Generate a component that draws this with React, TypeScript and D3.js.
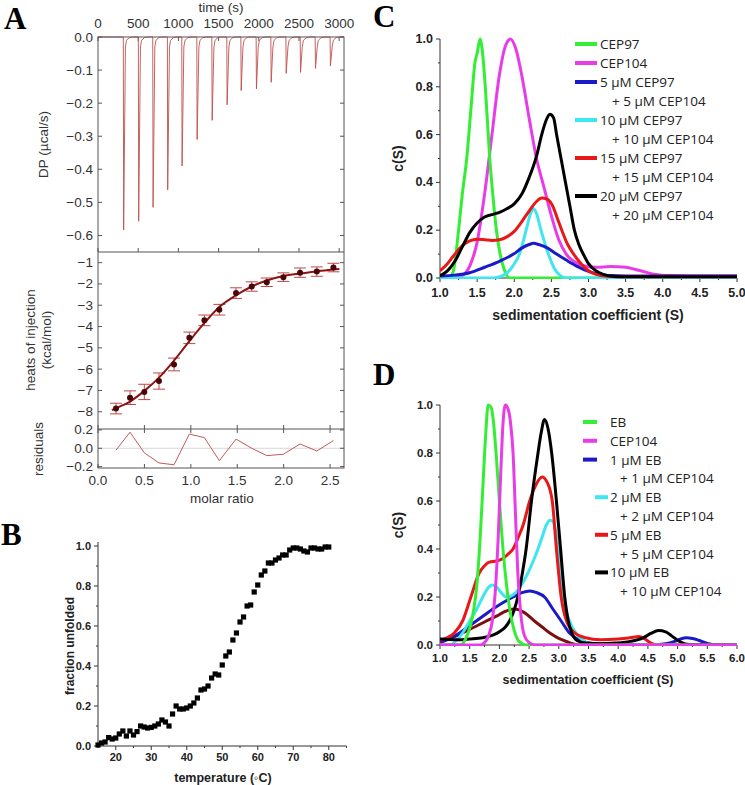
import React from 'react';
import * as d3 from 'd3';

// ---------------- Panel A data ----------------
const timeTicks = [0, 500, 1000, 1500, 2000, 2500, 3000];
const dpTicks = [0, -0.1, -0.2, -0.3, -0.4, -0.5, -0.6];
const heatTicks = [-1, -2, -3, -4, -5, -6, -7, -8];
const resTicks = [0.2, 0, -0.2];
const molarTicks = [0, 0.5, 1.0, 1.5, 2.0, 2.5];
const injTimes = [315, 502, 681, 863, 1042, 1229, 1416, 1602, 1777, 1967, 2150, 2337, 2515, 2701, 2887];
const injPeaks = [-0.583, -0.557, -0.515, -0.462, -0.39, -0.31, -0.252, -0.205, -0.162, -0.157, -0.137, -0.11, -0.107, -0.095, -0.087];
const molarRatio = [0.194, 0.345, 0.499, 0.657, 0.819, 0.984, 1.146, 1.307, 1.487, 1.656, 1.818, 1.997, 2.177, 2.357, 2.536];
const heats = [-7.85, -7.34, -7.07, -6.56, -5.78, -4.53, -3.71, -3.21, -2.43, -2.12, -1.92, -1.68, -1.47, -1.42, -1.23];
const heatErr = [0.25, 0.32, 0.36, 0.38, 0.3, 0.27, 0.25, 0.25, 0.25, 0.22, 0.2, 0.2, 0.22, 0.22, 0.2];
const fitX = [0.15, 0.194, 0.345, 0.499, 0.657, 0.819, 0.984, 1.146, 1.307, 1.487, 1.656, 1.818, 1.997, 2.177, 2.357, 2.536, 2.6];
const fitY = [-7.92, -7.83, -7.52, -7.02, -6.4, -5.6, -4.69, -3.83, -3.08, -2.53, -2.12, -1.84, -1.63, -1.51, -1.41, -1.32, -1.3];
const residuals = [-0.02, 0.175, -0.05, -0.16, -0.18, 0.155, 0.116, -0.135, 0.1, 0.0, -0.08, -0.065, 0.047, -0.03, 0.084];

// ---------------- Panel B data ----------------
const tempC = [15, 16, 17, 18, 19, 20, 21, 22, 23, 24, 25, 26, 27, 28, 29, 30, 31, 32, 33, 34, 35, 36, 37, 38, 39, 40, 41, 42, 43, 44, 45, 46, 47, 48, 49, 50, 51, 52, 53, 54, 55, 56, 57, 58, 59, 60, 61, 62, 63, 64, 65, 66, 67, 68, 69, 70, 71, 72, 73, 74, 75, 76, 77, 78, 79, 80];
const fracUnfolded = [0.005, 0.015, 0.02, 0.042, 0.035, 0.04, 0.06, 0.075, 0.05, 0.075, 0.055, 0.072, 0.1, 0.095, 0.09, 0.093, 0.1, 0.11, 0.13, 0.12, 0.1, 0.16, 0.2, 0.185, 0.185, 0.19, 0.2, 0.215, 0.24, 0.28, 0.285, 0.3, 0.34, 0.36, 0.355, 0.405, 0.45, 0.47, 0.53, 0.565, 0.62, 0.645, 0.7, 0.705, 0.77, 0.805, 0.855, 0.875, 0.915, 0.915, 0.93, 0.94, 0.955, 0.955, 0.98, 0.99, 0.99, 0.985, 0.975, 0.97, 0.99, 0.99, 0.985, 0.985, 0.995, 0.995];
const tempTicks = [20, 30, 40, 50, 60, 70, 80];
const fracTicks = [0, 0.2, 0.4, 0.6, 0.8, 1.0];

// ---------------- Panel C data ----------------
const cCep97X = [1.0, 1.12, 1.18, 1.25, 1.3, 1.36, 1.42, 1.47, 1.5, 1.54, 1.58, 1.61, 1.67, 1.72, 1.76, 1.81, 1.86, 1.94, 2.1, 5.0];
const cCep97Y = [0, 0, 0.03, 0.2, 0.35, 0.5, 0.72, 0.9, 0.94, 1.0, 0.92, 0.8, 0.5, 0.32, 0.2, 0.1, 0.04, 0, 0, 0];
const cCep104X = [1.0, 1.2, 1.3, 1.4, 1.5, 1.6, 1.7, 1.8, 1.88, 1.95, 2.02, 2.1, 2.2, 2.3, 2.4, 2.5, 2.6, 2.7, 2.8, 2.95, 3.1, 3.3, 3.5, 3.7, 3.9, 4.1, 4.4, 5.0];
const cCep104Y = [0, 0, 0.01, 0.05, 0.15, 0.35, 0.6, 0.85, 0.97, 1.0, 0.96, 0.85, 0.67, 0.5, 0.38, 0.26, 0.16, 0.1, 0.07, 0.05, 0.045, 0.048, 0.045, 0.03, 0.015, 0.01, 0.008, 0.008];
const c5X = [1.0, 1.2, 1.4, 1.6, 1.8, 1.99, 2.1, 2.2, 2.26, 2.33, 2.45, 2.57, 2.7, 2.84, 3.0, 3.15, 3.3, 3.5, 5.0];
const c5Y = [0.008, 0.012, 0.022, 0.045, 0.07, 0.1, 0.125, 0.14, 0.145, 0.14, 0.125, 0.1, 0.075, 0.05, 0.028, 0.015, 0.01, 0.008, 0.008];
const c10X = [1.0, 1.7, 1.8, 1.9, 1.98, 2.07, 2.16, 2.22, 2.26, 2.3, 2.36, 2.46, 2.54, 2.62, 2.7, 5.0];
const c10Y = [0, 0, 0.005, 0.02, 0.05, 0.1, 0.2, 0.27, 0.29, 0.27, 0.2, 0.1, 0.04, 0.01, 0, 0];
const c15X = [1.0, 1.1, 1.2, 1.3, 1.4, 1.5, 1.6, 1.7, 1.8, 1.9, 2.0, 2.1, 2.2, 2.3, 2.37, 2.44, 2.52, 2.58, 2.64, 2.72, 2.8, 2.9, 3.0, 3.1, 3.25, 3.4, 5.0];
const c15Y = [0.03, 0.06, 0.1, 0.135, 0.155, 0.162, 0.16, 0.157, 0.16, 0.172, 0.195, 0.235, 0.28, 0.32, 0.335, 0.33, 0.3, 0.25, 0.2, 0.14, 0.1, 0.06, 0.03, 0.015, 0.007, 0.005, 0.005];
const c20X = [1.0, 1.1, 1.2, 1.3, 1.4, 1.5, 1.6, 1.7, 1.8, 1.9, 2.0, 2.1, 2.2, 2.3, 2.37, 2.43, 2.48, 2.53, 2.57, 2.63, 2.69, 2.75, 2.81, 2.87, 2.93, 3.0, 3.1, 3.2, 3.35, 3.5, 5.0];
const c20Y = [0.01, 0.03, 0.07, 0.13, 0.19, 0.23, 0.255, 0.265, 0.275, 0.29, 0.31, 0.35, 0.42, 0.51, 0.6, 0.66, 0.685, 0.67, 0.6, 0.5, 0.4, 0.3, 0.2, 0.14, 0.1, 0.06, 0.03, 0.015, 0.006, 0.005, 0.005];
const cLegendMain = ['CEP97', 'CEP104', '5 µM CEP97', '10 µM CEP97', '15 µM CEP97', '20 µM CEP97'];
const cLegendSub = ['', '', '+ 5 µM CEP104', '+ 10 µM CEP104', '+ 15 µM CEP104', '+ 20 µM CEP104'];

// ---------------- Panel D data ----------------
const dEbX = [1.0, 1.35, 1.42, 1.5, 1.57, 1.62, 1.67, 1.72, 1.77, 1.81, 1.86, 1.9, 1.95, 2.0, 2.06, 2.12, 2.18, 2.25, 2.33, 2.45, 6.0];
const dEbY = [0, 0, 0.02, 0.07, 0.15, 0.25, 0.42, 0.65, 0.88, 1.0, 0.99, 0.93, 0.78, 0.6, 0.4, 0.25, 0.14, 0.06, 0.015, 0, 0];
const dCep104X = [1.0, 1.68, 1.75, 1.82, 1.88, 1.93, 1.98, 2.02, 2.06, 2.1, 2.15, 2.19, 2.23, 2.27, 2.31, 2.36, 2.42, 2.5, 2.6, 6.0];
const dCep104Y = [0, 0, 0.01, 0.04, 0.1, 0.22, 0.45, 0.7, 0.92, 1.0, 0.98, 0.92, 0.8, 0.55, 0.3, 0.13, 0.04, 0.01, 0, 0];
const d1X = [1.0, 1.15, 1.33, 1.47, 1.61, 1.75, 1.89, 2.05, 2.23, 2.38, 2.51, 2.63, 2.76, 2.9, 3.04, 3.18, 3.35, 3.6, 4.5, 4.8, 4.95, 5.05, 5.15, 5.25, 5.35, 5.5, 5.65, 6.0];
const d1Y = [0.01, 0.025, 0.05, 0.075, 0.1, 0.125, 0.15, 0.175, 0.2, 0.218, 0.225, 0.218, 0.2, 0.15, 0.1, 0.05, 0.02, 0.005, 0, 0.005, 0.015, 0.025, 0.03, 0.027, 0.02, 0.006, 0, 0];
const d2X = [1.0, 1.16, 1.28, 1.38, 1.5, 1.62, 1.72, 1.8, 1.88, 1.96, 2.04, 2.11, 2.2, 2.28, 2.37, 2.48, 2.57, 2.65, 2.72, 2.79, 2.85, 2.9, 2.95, 2.99, 3.07, 3.18, 3.3, 3.41, 3.6, 6.0];
const d2Y = [0, 0, 0.02, 0.05, 0.1, 0.15, 0.2, 0.235, 0.25, 0.24, 0.215, 0.2, 0.205, 0.22, 0.25, 0.3, 0.35, 0.4, 0.45, 0.5, 0.52, 0.515, 0.47, 0.4, 0.2, 0.1, 0.045, 0.02, 0, 0];
const d5X = [1.0, 1.12, 1.24, 1.38, 1.52, 1.66, 1.75, 1.83, 1.95, 2.06, 2.15, 2.23, 2.32, 2.4, 2.51, 2.62, 2.72, 2.8, 2.89, 2.96, 3.04, 3.13, 3.27, 3.45, 3.7, 4.0, 4.2, 4.35, 4.45, 4.55, 4.65, 6.0];
const d5Y = [0.02, 0.03, 0.05, 0.1, 0.2, 0.3, 0.33, 0.345, 0.35, 0.36, 0.38, 0.4, 0.45, 0.5, 0.6, 0.67, 0.7, 0.68, 0.6, 0.4, 0.2, 0.1, 0.05, 0.03, 0.022, 0.025, 0.03, 0.035, 0.025, 0.008, 0, 0];
const d10X = [1.0, 1.3, 1.5, 1.72, 1.9, 2.0, 2.1, 2.17, 2.24, 2.31, 2.38, 2.45, 2.54, 2.65, 2.7, 2.76, 2.82, 2.88, 2.96, 3.03, 3.1, 3.16, 3.22, 3.3, 3.45, 3.7, 3.95, 4.2, 4.42, 4.55, 4.68, 4.8, 4.9, 5.05, 5.2, 6.0];
const d10Y = [0.025, 0.022, 0.025, 0.03, 0.042, 0.055, 0.075, 0.1, 0.14, 0.2, 0.29, 0.4, 0.6, 0.8, 0.88, 0.94, 0.9, 0.8, 0.6, 0.4, 0.2, 0.1, 0.05, 0.02, 0.008, 0.005, 0.008, 0.015, 0.03, 0.048, 0.06, 0.055, 0.038, 0.012, 0.002, 0];
const dExtraX = [1.0, 1.2, 1.38, 1.58, 1.78, 1.95, 2.1, 2.26, 2.42, 2.59, 2.72, 2.85, 2.96, 3.07, 3.2, 3.35, 3.6];
const dExtraY = [0.02, 0.03, 0.05, 0.075, 0.1, 0.12, 0.14, 0.15, 0.135, 0.1, 0.075, 0.05, 0.033, 0.02, 0.008, 0, 0];
const dLegendMain = ['EB', 'CEP104', '1 µM EB', '2 µM EB', '5 µM EB', '10 µM EB'];
const dLegendSub = ['', '', '+ 1 µM CEP104', '+ 2 µM CEP104', '+ 5 µM CEP104', '+ 10 µM CEP104'];

const sedTicksY = [0, 0.2, 0.4, 0.6, 0.8, 1.0];

// ---------------- styles ----------------
const GREEN = '#33ee33';
const MAGENTA = '#e83ce8';
const BLUE = '#1a1ac8';
const CYAN = '#3ee6f0';
const RED = '#e81818';
const BLACK = '#000000';
const MAROON = '#7c1010';
const SANS = 'Liberation Sans, Arial, sans-serif';
const SERIF = 'Liberation Serif, Times New Roman, serif';
const LEG = 'Open Sans, sans-serif';

const fmt1 = (v: number) => (v < 0 ? '\u2212' : '') + Math.abs(v).toFixed(1);
const fmt0 = (v: number) => (v < 0 ? '\u2212' : '') + Math.abs(v).toFixed(0);

function zip(xs: number[], ys: number[]): [number, number][] {
  return xs.map((x, i) => [x, ys[i]]);
}

// ---------------- Panel A ----------------
function PanelA() {
  const L = 98, R = 344;
  const T = 37, S1 = 252, S2 = 429, B = 468;
  const xT = d3.scaleLinear().domain([0, 3060]).range([L, R]);
  const yDP = d3.scaleLinear().domain([-0.65, 0]).range([S1, T]);
  const xM = d3.scaleLinear().domain([0, 2.65]).range([L, R]);
  const yH = d3.scaleLinear().domain([-8.81, -0.5]).range([S2, S1]);
  const yR = d3.scaleLinear().domain([-0.215, 0.21]).range([B, S2]);

  const dpPts: [number, number][] = [[0, 0]];
  injTimes.forEach((t, i) => {
    const d = injPeaks[i];
    dpPts.push([t, 0], [t + 4, d], [t + 26, -0.03], [t + 40, -0.01], [t + 75, -0.002], [t + 110, 0]);
  });
  dpPts.push([3060, 0]);
  const dpLine = d3.line<[number, number]>().x(d => xT(d[0])).y(d => yDP(d[1]));
  const fitLine = d3.line<[number, number]>().x(d => xM(d[0])).y(d => yH(d[1])).curve(d3.curveMonotoneX);
  const resLine = d3.line<[number, number]>().x(d => xM(d[0])).y(d => yR(d[1]));

  const axisCol = '#555';
  const txt = '#333';
  const tk = 4;
  return (
    <g>
      <defs>
        <clipPath id="clipDP"><rect x={L} y={T - 1} width={R - L} height={S1 - T + 1} /></clipPath>
      </defs>
      <text x={4} y={29} fontFamily={SERIF} fontWeight="bold" fontSize={31}>A</text>
      <text x={221} y={12} textAnchor="middle" fontFamily={SANS} fontSize={13.5} fill={txt}>time (s)</text>
      {timeTicks.map(t => (
        <g key={'tt' + t}>
          <text x={xT(t)} y={28} textAnchor="middle" fontFamily={SANS} fontSize={13.5} fill={txt}>{t}</text>
          <line x1={xT(t)} x2={xT(t)} y1={T} y2={T + tk} stroke={axisCol} />
          <line x1={xT(t)} x2={xT(t)} y1={S1} y2={S1 - tk} stroke={axisCol} />
        </g>
      ))}
      {dpTicks.map(v => (
        <g key={'dp' + v}>
          <text x={93} y={yDP(v)} textAnchor="end" dominantBaseline="central" fontFamily={SANS} fontSize={13.5} fill={txt}>{fmt1(v)}</text>
          <line x1={L} x2={L + tk} y1={yDP(v)} y2={yDP(v)} stroke={axisCol} />
          <line x1={R} x2={R - tk} y1={yDP(v)} y2={yDP(v)} stroke={axisCol} />
        </g>
      ))}
      <path d={dpLine(dpPts) || ''} fill="none" stroke="#c0504d" strokeWidth={0.9} clipPath="url(#clipDP)" />

      {heatTicks.map(v => (
        <g key={'h' + v}>
          <text x={93} y={yH(v)} textAnchor="end" dominantBaseline="central" fontFamily={SANS} fontSize={13.5} fill={txt}>{fmt0(v)}</text>
          <line x1={L} x2={L + tk} y1={yH(v)} y2={yH(v)} stroke={axisCol} />
          <line x1={R} x2={R - tk} y1={yH(v)} y2={yH(v)} stroke={axisCol} />
        </g>
      ))}
      {molarRatio.map((m, i) => (
        <g key={'e' + i} stroke="#c04848" strokeWidth={1}>
          <line x1={xM(m)} x2={xM(m)} y1={yH(heats[i] - heatErr[i])} y2={yH(heats[i] + heatErr[i])} />
          <line x1={xM(m) - 6} x2={xM(m) + 6} y1={yH(heats[i] - heatErr[i])} y2={yH(heats[i] - heatErr[i])} />
          <line x1={xM(m) - 6} x2={xM(m) + 6} y1={yH(heats[i] + heatErr[i])} y2={yH(heats[i] + heatErr[i])} />
        </g>
      ))}
      <path d={fitLine(zip(fitX, fitY)) || ''} fill="none" stroke="#8b1414" strokeWidth={2} />
      {molarRatio.map((m, i) => (
        <circle key={'p' + i} cx={xM(m)} cy={yH(heats[i])} r={3} fill="#4a0606" />
      ))}

      <line x1={L} x2={R} y1={yR(0)} y2={yR(0)} stroke="#d8d8d8" strokeWidth={1} />
      <path d={resLine(zip(molarRatio, residuals)) || ''} fill="none" stroke="#c05a5a" strokeWidth={1} />
      {resTicks.map(v => (
        <g key={'r' + v}>
          <text x={93} y={yR(v)} textAnchor="end" dominantBaseline="central" fontFamily={SANS} fontSize={13.5} fill={txt}>{fmt1(v)}</text>
          <line x1={L} x2={L + tk} y1={yR(v)} y2={yR(v)} stroke={axisCol} />
          <line x1={R} x2={R - tk} y1={yR(v)} y2={yR(v)} stroke={axisCol} />
        </g>
      ))}
      {molarTicks.map(m => (
        <g key={'m' + m}>
          <text x={xM(m)} y={485} textAnchor="middle" fontFamily={SANS} fontSize={13.5} fill={txt}>{m.toFixed(1)}</text>
          <line x1={xM(m)} x2={xM(m)} y1={B} y2={B - tk} stroke={axisCol} />
          <line x1={xM(m)} x2={xM(m)} y1={S2 - tk} y2={S2 + tk} stroke={axisCol} />
        </g>
      ))}
      <rect x={L} y={T} width={R - L} height={B - T} fill="none" stroke={axisCol} strokeWidth={1} />
      <line x1={L} x2={R} y1={S1} y2={S1} stroke={axisCol} strokeWidth={1} />
      <line x1={L} x2={R} y1={S2} y2={S2} stroke={axisCol} strokeWidth={1} />

      <text transform={`translate(43,${(T + S1) / 2}) rotate(-90)`} textAnchor="middle" dominantBaseline="central" fontFamily={SANS} fontSize={13.5} fill={txt}>DP (µcal/s)</text>
      <text transform={`translate(30,340) rotate(-90)`} textAnchor="middle" dominantBaseline="central" fontFamily={SANS} fontSize={13.5} fill={txt}>heats of injection</text>
      <text transform={`translate(46,340) rotate(-90)`} textAnchor="middle" dominantBaseline="central" fontFamily={SANS} fontSize={13.5} fill={txt}>(kcal/mol)</text>
      <text transform={`translate(38,449) rotate(-90)`} textAnchor="middle" dominantBaseline="central" fontFamily={SANS} fontSize={13.5} fill={txt}>residuals</text>
      <text x={222} y={503} textAnchor="middle" fontFamily={SANS} fontSize={13.5} fill={txt}>molar ratio</text>
    </g>
  );
}

// ---------------- Panel B ----------------
function PanelB() {
  const x = d3.scaleLinear().domain([15, 85]).range([98, 346.5]);
  const y = d3.scaleLinear().domain([0, 1]).range([746, 546]);
  const minorX = d3.range(15, 86, 5).filter(v => v % 10 !== 0);
  const minorY = [0.1, 0.3, 0.5, 0.7, 0.9];
  const col = '#333';
  return (
    <g>
      <text x={1} y={545} fontFamily={SERIF} fontWeight="bold" fontSize={31}>B</text>
      <line x1={98} x2={98} y1={746} y2={y(1.02)} stroke={col} />
      <line x1={98} x2={346.5} y1={746} y2={746} stroke={col} />
      {fracTicks.map(v => (
        <g key={'fy' + v}>
          <line x1={94} x2={98} y1={y(v)} y2={y(v)} stroke={col} />
          <text x={91} y={y(v)} textAnchor="end" dominantBaseline="central" fontFamily={SANS} fontWeight="bold" fontSize={11} fill="#222">{v.toFixed(1)}</text>
        </g>
      ))}
      {minorY.map(v => <line key={'my' + v} x1={96} x2={98} y1={y(v)} y2={y(v)} stroke={col} />)}
      {tempTicks.map(v => (
        <g key={'tx' + v}>
          <line x1={x(v)} x2={x(v)} y1={746} y2={750} stroke={col} />
          <text x={x(v)} y={761} textAnchor="middle" fontFamily={SANS} fontWeight="bold" fontSize={11} fill="#222">{v}</text>
        </g>
      ))}
      {minorX.map(v => <line key={'mx' + v} x1={x(v)} x2={x(v)} y1={746} y2={748} stroke={col} />)}
      {tempC.map((t, i) => (
        <rect key={'s' + i} x={x(t) - 2.6} y={y(fracUnfolded[i]) - 2.6} width={5.2} height={5.2} fill="#000" />
      ))}
      <text transform={`translate(70,646) rotate(-90)`} textAnchor="middle" dominantBaseline="central" fontFamily={SANS} fontWeight="bold" fontSize={12} fill="#222">fraction unfolded</text>
      <text x={223} y={782} textAnchor="middle" fontFamily={SANS} fontWeight="bold" fontSize={12.5} fill="#222">temperature (◦C)</text>
    </g>
  );
}

// ---------------- Sedimentation panels ----------------
type Series = { xs: number[]; ys: number[]; color: string };

function SedPanel(props: {
  letter: string; letterY: number; top: number; bottom: number; xMax: number; xTicks: number[];
  series: Series[]; legendMain: string[]; legendSub: string[]; legendColors: string[];
  legendY0: number; legendDy: number; sampleX: number[][]; textX: number; subX: number;
  tickFont: number; titleFont: number; titleY: number; tickLabelY: number; legFont: number;
}) {
  const L = 440, R = 737;
  const x = d3.scaleLinear().domain([1, props.xMax]).range([L, R]);
  const y = d3.scaleLinear().domain([0, 1]).range([props.bottom, props.top]);
  const line = d3.line<[number, number]>().x(d => x(d[0])).y(d => y(d[1])).curve(d3.curveMonotoneX);
  const minorX = props.xTicks.slice(0, -1).map(v => v + 0.25);
  const minorY = [0.1, 0.3, 0.5, 0.7, 0.9];
  const col = '#333';
  const clipId = 'clip' + props.letter;
  return (
    <g>
      <defs>
        <clipPath id={clipId}><rect x={L} y={props.top - 10} width={R - L + 2} height={props.bottom - props.top + 11} /></clipPath>
      </defs>
      <text x={373} y={props.letterY} fontFamily={SERIF} fontWeight="bold" fontSize={31}>{props.letter}</text>
      <line x1={L} x2={L} y1={props.bottom} y2={y(1.0)} stroke={col} />
      <line x1={L} x2={R} y1={props.bottom} y2={props.bottom} stroke={col} />
      {sedTicksY.map(v => (
        <g key={'y' + v}>
          <line x1={L - 4} x2={L} y1={y(v)} y2={y(v)} stroke={col} />
          <text x={L - 7} y={y(v)} textAnchor="end" dominantBaseline="central" fontFamily={SANS} fontWeight="bold" fontSize={props.tickFont} fill="#222">{v.toFixed(1)}</text>
        </g>
      ))}
      {minorY.map(v => <line key={'my' + v} x1={L - 2} x2={L} y1={y(v)} y2={y(v)} stroke={col} />)}
      {props.xTicks.map(v => (
        <g key={'x' + v}>
          <line x1={x(v)} x2={x(v)} y1={props.bottom} y2={props.bottom + 4} stroke={col} />
          <text x={x(v)} y={props.tickLabelY} textAnchor="middle" dominantBaseline="central" fontFamily={SANS} fontWeight="bold" fontSize={props.tickFont} fill="#222">{v.toFixed(1)}</text>
        </g>
      ))}
      {minorX.map(v => <line key={'mx' + v} x1={x(v)} x2={x(v)} y1={props.bottom} y2={props.bottom + 2} stroke={col} />)}
      <g clipPath={`url(#${clipId})`}>
        {props.series.map((s, i) => (
          <path key={'s' + i} d={line(zip(s.xs, s.ys)) || ''} fill="none" stroke={s.color} strokeWidth={3} strokeLinejoin="round" />
        ))}
      </g>
      {props.legendMain.map((lab, i) => {
        const rowY = props.legendY0 + props.legendDy * 2 * Math.max(0, i - 2) + props.legendDy * Math.min(i, 2);
        const sx = props.sampleX[i];
        return (
          <g key={'l' + i}>
            <line x1={sx[0]} x2={sx[1]} y1={rowY} y2={rowY} stroke={props.legendColors[i]} strokeWidth={4} />
            <text x={props.textX} y={rowY} dominantBaseline="central" fontFamily={LEG} fontSize={props.legFont} fill="#222">{lab}</text>
            {props.legendSub[i] ? (
              <text x={props.subX} y={rowY + props.legendDy} dominantBaseline="central" fontFamily={LEG} fontSize={props.legFont} fill="#222">{props.legendSub[i]}</text>
            ) : null}
          </g>
        );
      })}
      <text transform={`translate(398,${(props.top + props.bottom) / 2}) rotate(-90)`} textAnchor="middle" dominantBaseline="central" fontFamily={SANS} fontWeight="bold" fontSize={14} fill="#222">c(S)</text>
      <text x={588} y={props.titleY} textAnchor="middle" dominantBaseline="central" fontFamily={SANS} fontWeight="bold" fontSize={props.titleFont} fill="#222">sedimentation coefficient (S)</text>
    </g>
  );
}

function PanelC() {
  const series: Series[] = [
    { xs: cCep104X, ys: cCep104Y, color: MAGENTA },
    { xs: cCep97X, ys: cCep97Y, color: GREEN },
    { xs: c10X, ys: c10Y, color: CYAN },
    { xs: c5X, ys: c5Y, color: BLUE },
    { xs: c15X, ys: c15Y, color: RED },
    { xs: c20X, ys: c20Y, color: BLACK },
  ];
  const s = [575, 597];
  return (
    <SedPanel letter="C" letterY={27} top={39} bottom={278} xMax={5} xTicks={[1, 1.5, 2, 2.5, 3, 3.5, 4, 4.5, 5]}
      series={series} legendMain={cLegendMain} legendSub={cLegendSub}
      legendColors={[GREEN, MAGENTA, BLUE, CYAN, RED, BLACK]}
      legendY0={44} legendDy={19} sampleX={[s, s, s, s, s, s]} textX={600} subX={612}
      tickFont={12.5} titleFont={14} titleY={315} tickLabelY={293} legFont={13.5} />
  );
}

function PanelD() {
  const series: Series[] = [
    { xs: dExtraX, ys: dExtraY, color: MAROON },
    { xs: d1X, ys: d1Y, color: BLUE },
    { xs: d2X, ys: d2Y, color: CYAN },
    { xs: d5X, ys: d5Y, color: RED },
    { xs: d10X, ys: d10Y, color: BLACK },
    { xs: dEbX, ys: dEbY, color: GREEN },
    { xs: dCep104X, ys: dCep104Y, color: MAGENTA },
  ];
  const a = [583, 597];
  const b = [595, 608];
  return (
    <SedPanel letter="D" letterY={385} top={405} bottom={645} xMax={6} xTicks={[1, 1.5, 2, 2.5, 3, 3.5, 4, 4.5, 5, 5.5, 6]}
      series={series} legendMain={dLegendMain} legendSub={dLegendSub}
      legendColors={[GREEN, MAGENTA, BLUE, CYAN, RED, BLACK]}
      legendY0={422} legendDy={18.8} sampleX={[a, a, a, b, b, b]} textX={610} subX={620}
      tickFont={11.5} titleFont={12.5} titleY={680} tickLabelY={658} legFont={13.5} />
  );
}

export default function App() {
  return (
    <svg width={745} height={785} viewBox="0 0 745 785" style={{ position: 'absolute', left: 0, top: 0, background: '#fff' }}>
      <rect x={0} y={0} width={745} height={785} fill="#fff" />
      <PanelA />
      <PanelB />
      <PanelC />
      <PanelD />
    </svg>
  );
}
